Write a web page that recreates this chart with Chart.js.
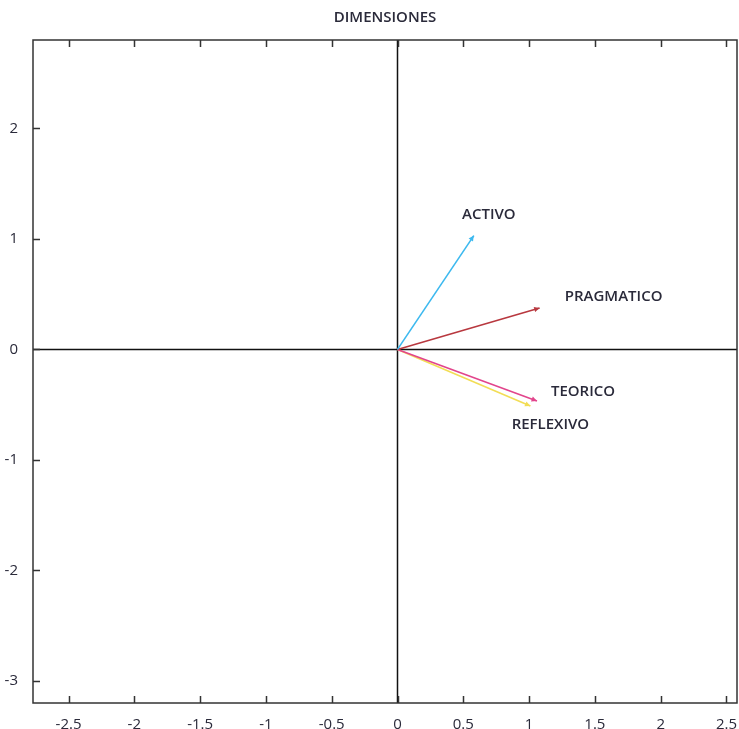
<!DOCTYPE html>
<html>
<head>
<meta charset="utf-8">
<script src="https://cdn.jsdelivr.net/npm/chart.js@4.4.1/dist/chart.umd.min.js"></script>
<style>
  html, body { margin: 0; padding: 0; background: #fff; }
  #wrap { width: 739px; height: 729px; }
</style>
</head>
<body>
<div id="wrap"><canvas id="chart"></canvas></div>
<script>
// --------- Data ---------
const names = ["ACTIVO", "PRAGMATICO", "TEORICO", "REFLEXIVO"];
const tipX = [0.58, 1.08, 1.06, 1.01];
const tipY = [1.03, 0.375, -0.466, -0.513];
const colors = ["#3db9ef", "#b8383f", "#e2458c", "#f2dd55"];
const xTicks = [-2.5, -2, -1.5, -1, -0.5, 0, 0.5, 1, 1.5, 2, 2.5];
const yTicks = [-3, -2, -1, 0, 1, 2];

// label offset from arrow tip, in px (style only)
const labelOffsets = [[15, -21], [74, -11], [46, -9], [20, 19]];

const FONT = "'Open Sans', sans-serif";
const TEXT = "#2a2a3a";

const datasets = names.map((n, i) => ({
  label: n,
  data: [{ x: 0, y: 0 }, { x: tipX[i], y: tipY[i] }],
  showLine: true,
  borderColor: colors[i],
  backgroundColor: colors[i],
  borderWidth: 1.6,
  pointRadius: 0
}));

// --------- Frame, ticks, arrowheads, labels ---------
const framePlugin = {
  id: "frame",
  beforeDatasetsDraw(chart) {
    const { ctx, chartArea: a, scales } = chart;
    const x0 = scales.x.getPixelForValue(0);
    const y0 = scales.y.getPixelForValue(0);
    ctx.save();
    ctx.strokeStyle = "#111";
    ctx.lineWidth = 1.5;
    ctx.beginPath();
    ctx.moveTo(x0, a.top); ctx.lineTo(x0, a.bottom);
    ctx.moveTo(a.left, y0); ctx.lineTo(a.right, y0);
    ctx.stroke();
    ctx.restore();
  },
  afterDraw(chart) {
    const { ctx, chartArea: a, scales } = chart;
    ctx.save();
    ctx.strokeStyle = "#333";
    ctx.lineWidth = 1.5;
    ctx.strokeRect(a.left, a.top, a.right - a.left, a.bottom - a.top);
    const tl = 7;
    ctx.beginPath();
    xTicks.forEach(v => {
      const px = Math.round(scales.x.getPixelForValue(v)) + 0.5;
      ctx.moveTo(px, a.top); ctx.lineTo(px, a.top + tl);
      ctx.moveTo(px, a.bottom); ctx.lineTo(px, a.bottom - tl);
    });
    yTicks.forEach(v => {
      const py = Math.round(scales.y.getPixelForValue(v)) + 0.5;
      ctx.moveTo(a.left, py); ctx.lineTo(a.left + tl, py);
    });
    ctx.stroke();

    // arrowheads + labels
    names.forEach((n, i) => {
      const x1 = scales.x.getPixelForValue(tipX[i]);
      const y1 = scales.y.getPixelForValue(tipY[i]);
      const x0 = scales.x.getPixelForValue(0);
      const y0 = scales.y.getPixelForValue(0);
      const ang = Math.atan2(y1 - y0, x1 - x0);
      const L = 6, W = 0.45;
      ctx.fillStyle = colors[i];
      ctx.beginPath();
      ctx.moveTo(x1, y1);
      ctx.lineTo(x1 - L * Math.cos(ang - W), y1 - L * Math.sin(ang - W));
      ctx.lineTo(x1 - L * Math.cos(ang + W), y1 - L * Math.sin(ang + W));
      ctx.closePath();
      ctx.fill();

      ctx.fillStyle = TEXT;
      ctx.font = "600 15px " + FONT;
      ctx.textAlign = "center";
      ctx.textBaseline = "middle";
      ctx.fillText(n, x1 + labelOffsets[i][0], y1 + labelOffsets[i][1]);
    });
    ctx.restore();
  }
};

new Chart(document.getElementById("chart"), {
  type: "scatter",
  data: { datasets },
  options: {
    responsive: true,
    maintainAspectRatio: false,
    animation: false,
    layout: { padding: { top: 0, right: 2, bottom: 0, left: 0 } },
    plugins: {
      legend: { display: false },
      tooltip: { enabled: false },
      title: {
        display: true,
        fullSize: false,
        text: "DIMENSIONES",
        color: TEXT,
        font: { family: FONT, size: 15, weight: "600" },
        padding: { top: 9, bottom: 13 }
      }
    },
    scales: {
      x: {
        type: "linear",
        min: -2.77,
        max: 2.58,
        afterBuildTicks: (s) => { s.ticks = xTicks.map(v => ({ value: v })); },
        afterFit: (s) => { s.height = 26; s.paddingLeft = 0; s.paddingRight = 0; },
        grid: { display: false },
        border: { display: false },
        ticks: {
          color: TEXT,
          font: { family: FONT, size: 15 },
          padding: 5,
          maxRotation: 0,
          autoSkip: false,
          callback: (v) => String(v)
        }
      },
      y: {
        type: "linear",
        min: -3.2,
        max: 2.8,
        afterBuildTicks: (s) => { s.ticks = yTicks.map(v => ({ value: v })); },
        afterFit: (s) => { s.width = 33; s.paddingTop = 0; s.paddingBottom = 0; },
        grid: { display: false },
        border: { display: false },
        ticks: {
          color: TEXT,
          font: { family: FONT, size: 15 },
          padding: 7,
          autoSkip: false,
          callback: (v) => String(v)
        }
      }
    }
  },
  plugins: [framePlugin]
});
</script>
</body>
</html>
